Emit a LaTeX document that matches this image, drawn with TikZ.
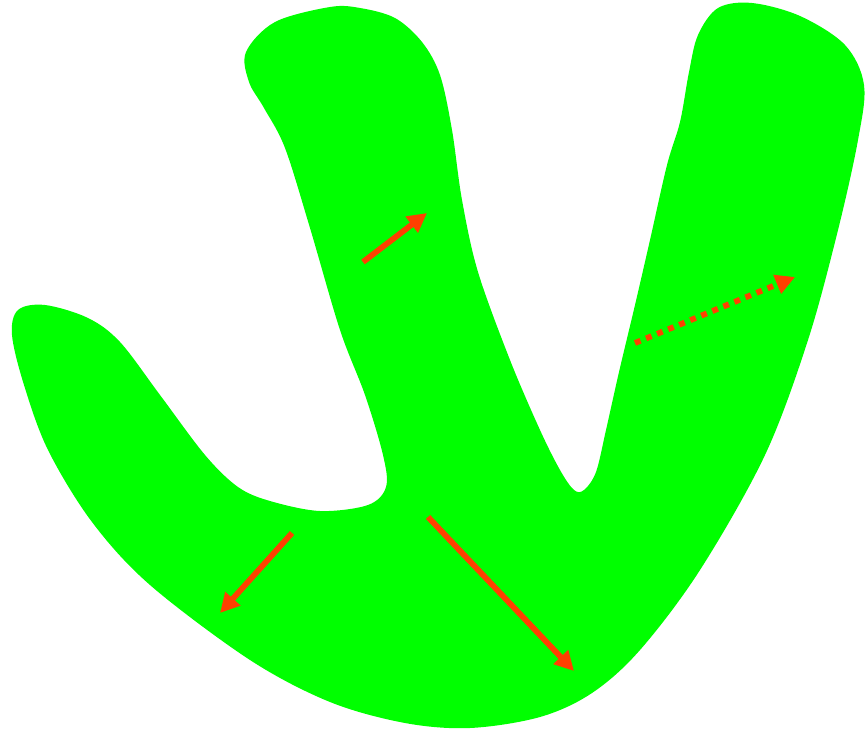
\documentclass[tikz,border=0pt]{standalone}
\usepackage{tikz}
\usetikzlibrary{arrows.meta}

\definecolor{blobgreen}{RGB}{0,255,0}
\definecolor{arrowred}{RGB}{255,64,0}

\begin{document}
\begin{tikzpicture}[
            x=0.02cm, y=-0.02cm,
            blob/.style={fill=blobgreen, draw=none},
            push/.style={-{Triangle[length=11pt, width=11pt]}, arrowred, line width=3.3pt},
            pushdot/.style={push, dash pattern=on 3.4pt off 3.4pt}
        ]
            \useasboundingbox (0,0) rectangle (865,733);

            % green region
            \fill[blob] plot[smooth cycle, tension=0.55] coordinates {
                (330,7) (275,22) (246,52) (249,82) (264,108) (285,148)
                (310,228) (340,330) (365,395) (383,455) (386,487) (368,505)
                (320,511) (270,501) (238,487) (205,455) (160,395) (120,342)
                (88,318) (45,305) (18,310) (12,335) (24,385) (48,450)
                (92,522) (150,585) (250,660) (330,702) (405,723) (470,728)
                (540,717) (592,693) (640,650) (700,570) (765,455) (808,340)
                (838,230) (858,140) (864,85) (845,45) (800,16) (752,3)
                (718,8) (698,35) (689,72) (680,122) (667,165) (650,240)
                (635,305) (619,372) (606,430) (596,472) (584,490) (574,490)
                (560,470) (540,430) (510,360) (478,272) (462,200) (452,130)
                (440,75) (422,42) (395,18) (360,8)
            };

            % arrows
            \coordinate (upS) at (363,262);
            \coordinate (upE) at (427,213);
            \coordinate (dotS) at (635,343);
            \coordinate (dotE) at (795,277);
            \coordinate (leftS) at (292,533);
            \coordinate (leftE) at (220,613);
            \coordinate (downS) at (428,517);
            \coordinate (downE) at (574,671);

            \draw[push] (upS) -- (upE);
            \draw[pushdot] (dotS) -- (dotE);
            \draw[push] (leftS) -- (leftE);
            \draw[push] (downS) -- (downE);
        \end{tikzpicture}
\end{document}
